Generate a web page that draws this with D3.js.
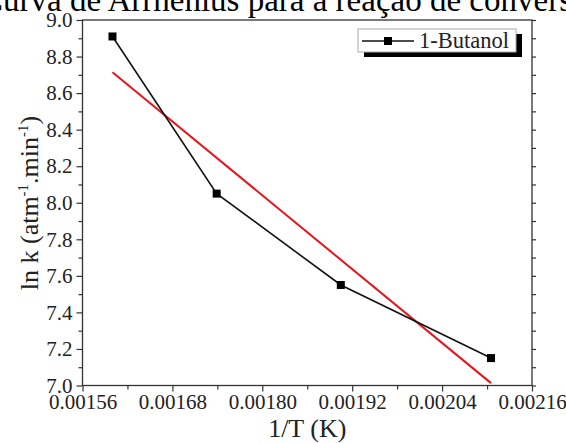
<!DOCTYPE html>
<html>
<head>
<meta charset="utf-8">
<script src="https://cdn.jsdelivr.net/npm/d3@7"></script>
<style>
  html, body { margin: 0; padding: 0; background: #fff; }
  svg { display: block; }
  svg text { font-family: "Liberation Serif", "Times New Roman", serif; }
</style>
</head>
<body>
<svg id="chart" width="566" height="443"></svg>
<script>
// Arrhenius data for 1-butanol: inverse temperature vs ln k
const invT = [0.0016, 0.0017391, 0.0019048, 0.0021053];
const lnK = [8.91, 8.05, 7.55, 7.15];
// Linear fit endpoints (red line)
const fitInvT = [0.0016, 0.0021053];
const fitLnK = [8.714, 7.013];

const xTicks = [0.00156, 0.00168, 0.00180, 0.00192, 0.00204, 0.00216];
const yTicks = [7.0, 7.2, 7.4, 7.6, 7.8, 8.0, 8.2, 8.4, 8.6, 8.8, 9.0];
const seriesName = "1-Butanol";
const titleText = "Curva de Arrhenius para a reação de conversão do 1-butanol";

const svg = d3.select("#chart");
const plotL = 82.5, plotR = 532, plotT = 20, plotB = 385.5;
const axisColor = "#333";

const x = d3.scaleLinear().domain([0.00156, 0.00216]).range([plotL, plotR]);
const y = d3.scaleLinear().domain([7.0, 9.0]).range([plotB, plotT]);

// page text above the figure (partly cut off by the top edge)
svg.append("text")
  .attr("x", -19).attr("y", 11)
  .attr("font-size", 33)
  .attr("fill", "#000")
  .text(titleText);

// frame
svg.append("rect")
  .attr("x", plotL).attr("y", plotT)
  .attr("width", plotR - plotL).attr("height", plotB - plotT)
  .attr("fill", "none").attr("stroke", axisColor).attr("stroke-width", 1.3);

// minor tick values
const xMinor = d3.range(0, 5).map(i => 0.00162 + i * 0.00012);
const yMinor = d3.range(0, 10).map(i => 7.1 + i * 0.2);

function styleAxis(g) {
  g.attr("font-family", null).attr("font-size", null);
  g.select(".domain").remove();
  g.selectAll(".tick line").attr("stroke", axisColor).attr("stroke-width", 1.2);
  g.selectAll(".tick text")
    .attr("fill", "#222")
    .style("font-family", "'Liberation Serif', serif")
    .style("font-size", "21px");
}

// bottom axis
svg.append("g")
  .attr("transform", `translate(0,${plotB})`)
  .call(d3.axisBottom(x).tickValues(xTicks).tickFormat(d3.format(".5f")).tickSize(6).tickPadding(3))
  .call(styleAxis);
svg.append("g")
  .attr("transform", `translate(0,${plotB})`)
  .call(d3.axisBottom(x).tickValues(xMinor).tickFormat("").tickSize(4))
  .call(styleAxis);

// left axis
svg.append("g")
  .attr("transform", `translate(${plotL},0)`)
  .call(d3.axisLeft(y).tickValues(yTicks).tickFormat(d3.format(".1f")).tickSize(6).tickPadding(4))
  .call(styleAxis);
svg.append("g")
  .attr("transform", `translate(${plotL},0)`)
  .call(d3.axisLeft(y).tickValues(yMinor).tickFormat("").tickSize(4))
  .call(styleAxis);

// right axis ticks
svg.append("g")
  .attr("transform", `translate(${plotR},0)`)
  .call(d3.axisRight(y).tickValues(yTicks.concat(yMinor)).tickFormat("").tickSize(4))
  .call(styleAxis);

// axis titles
svg.append("text")
  .attr("x", (plotL + plotR) / 2).attr("y", 437)
  .attr("text-anchor", "middle")
  .attr("font-size", 26)
  .attr("fill", "#222")
  .text("1/T (K)");

const yl = svg.append("text")
  .attr("transform", "translate(38,203) rotate(-90)")
  .attr("text-anchor", "middle")
  .attr("font-size", 26)
  .attr("fill", "#222");
yl.append("tspan").text("ln k (atm");
yl.append("tspan").attr("font-size", 15).attr("dy", -10).text("-1");
yl.append("tspan").attr("dy", 10).text(".min");
yl.append("tspan").attr("font-size", 15).attr("dy", -10).text("-1");
yl.append("tspan").attr("dy", 10).text(")");

// fitted line
svg.append("path")
  .datum(d3.zip(fitInvT, fitLnK))
  .attr("d", d3.line().x(d => x(d[0])).y(d => y(d[1])))
  .attr("fill", "none").attr("stroke", "#e8141a").attr("stroke-width", 2);

// data line
const pts = d3.zip(invT, lnK);
svg.append("path")
  .datum(pts)
  .attr("d", d3.line().x(d => x(d[0])).y(d => y(d[1])))
  .attr("fill", "none").attr("stroke", "#111").attr("stroke-width", 1.6);

const ms = 8;
svg.selectAll("rect.pt").data(pts).enter().append("rect")
  .attr("class", "pt")
  .attr("x", d => x(d[0]) - ms / 2).attr("y", d => y(d[1]) - ms / 2)
  .attr("width", ms).attr("height", ms)
  .attr("fill", "#000");

// legend
const lg = svg.append("g");
lg.append("rect").attr("x", 364).attr("y", 34).attr("width", 158).attr("height", 23).attr("fill", "#000");
lg.append("rect").attr("x", 358).attr("y", 29).attr("width", 158).attr("height", 23)
  .attr("fill", "#fff").attr("stroke", "#aaa").attr("stroke-width", 1);
lg.append("line").attr("x1", 362).attr("x2", 414).attr("y1", 41).attr("y2", 41)
  .attr("stroke", "#111").attr("stroke-width", 1.6);
lg.append("rect").attr("x", 388 - ms / 2).attr("y", 41 - ms / 2).attr("width", ms).attr("height", ms).attr("fill", "#000");
lg.append("text").attr("x", 419).attr("y", 48).attr("font-size", 22.5).attr("fill", "#222").text(seriesName);
</script>
</body>
</html>
